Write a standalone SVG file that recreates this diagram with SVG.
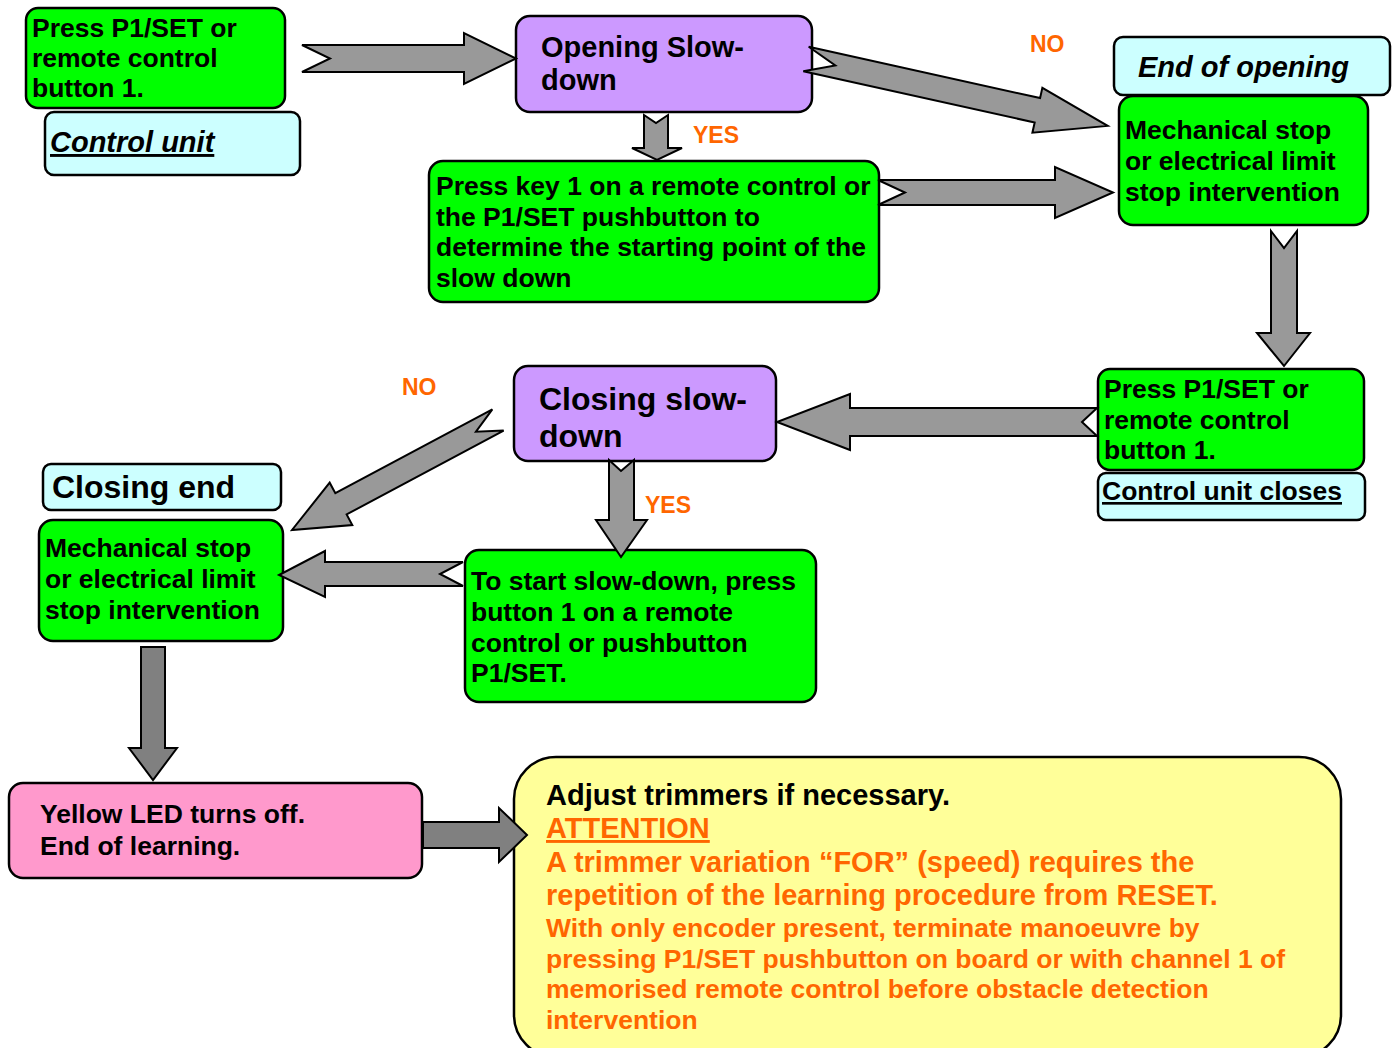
<svg xmlns="http://www.w3.org/2000/svg" width="1400" height="1048" viewBox="0 0 1400 1048">
<style>
text{font-family:"Liberation Sans",Arial,sans-serif;font-weight:bold;}
.g{fill:#00FF00;stroke:#000;stroke-width:2.5;}
.c{fill:#CCFFFF;stroke:#000;stroke-width:2.5;}
.p{fill:#CC99FF;stroke:#000;stroke-width:2.5;}
.k{fill:#FF99CC;stroke:#000;stroke-width:2.5;}
.y{fill:#FFFF99;stroke:#000;stroke-width:2.5;}
.t{font-size:26.5px;fill:#000;}
.big{font-size:29px;fill:#000;}
.lbl{font-size:23px;fill:#FF6600;}
.or{fill:#FF6600;}
.arr{fill:#999999;stroke:#000;stroke-width:2;stroke-linejoin:miter;}
.arr2{fill:#808080;stroke:#000;stroke-width:2;stroke-linejoin:miter;}
</style>
<rect width="1400" height="1048" fill="#fff"/>
<g id="n1">
<rect class="g" x="26" y="8" width="259" height="100" rx="12"/>
<text class="t" x="32" y="37">Press P1/SET or</text>
<text class="t" x="32" y="67">remote control</text>
<text class="t" x="32" y="97">button 1.</text>
</g>
<g id="control-unit">
<rect class="c" x="45" y="112" width="255" height="63" rx="9"/>
<text class="big" x="50" y="152" font-style="italic" text-decoration="underline">Control unit</text>
</g>
<g id="opening-slowdown">
<rect class="p" x="516" y="16" width="296" height="96" rx="14"/>
<text class="big" x="541" y="57">Opening Slow-</text>
<text class="big" x="541" y="90">down</text>
</g>
<g id="press-key">
<rect class="g" x="429" y="161" width="450" height="141" rx="14"/>
<text class="t" x="436" y="195">Press key 1 on a remote control or</text>
<text class="t" x="436" y="226">the P1/SET pushbutton to</text>
<text class="t" x="436" y="256">determine the starting point of the</text>
<text class="t" x="436" y="287">slow down</text>
</g>
<g id="end-of-opening">
<rect class="c" x="1114" y="37" width="276" height="58" rx="9"/>
<text class="big" x="1138" y="77" font-style="italic">End of opening</text>
</g>
<g id="mech-stop-open">
<rect class="g" x="1119" y="96" width="249" height="129" rx="14"/>
<text class="t" x="1125" y="139">Mechanical stop</text>
<text class="t" x="1125" y="170">or electrical limit</text>
<text class="t" x="1125" y="201">stop intervention</text>
</g>
<g id="n-press-right">
<rect class="g" x="1098" y="369" width="266" height="101" rx="12"/>
<text class="t" x="1104" y="398">Press P1/SET or</text>
<text class="t" x="1104" y="429">remote control</text>
<text class="t" x="1104" y="459">button 1.</text>
</g>
<g id="control-unit-closes">
<rect class="c" x="1098" y="473" width="267" height="47" rx="8"/>
<text class="t" x="1102" y="500" text-decoration="underline">Control unit closes</text>
</g>
<g id="closing-slowdown">
<rect class="p" x="514" y="366" width="262" height="95" rx="14"/>
<text x="539" y="410" font-size="32">Closing slow-</text>
<text x="539" y="447" font-size="32">down</text>
</g>
<g id="closing-end">
<rect class="c" x="43" y="464" width="238" height="46" rx="8"/>
<text x="52" y="498" font-size="32">Closing end</text>
</g>
<g id="mech-stop-close">
<rect class="g" x="39" y="520" width="244" height="121" rx="14"/>
<text class="t" x="45" y="557">Mechanical stop</text>
<text class="t" x="45" y="588">or electrical limit</text>
<text class="t" x="45" y="619">stop intervention</text>
</g>
<g id="to-start">
<rect class="g" x="465" y="550" width="351" height="152" rx="14"/>
<text class="t" x="471" y="590">To start slow-down, press</text>
<text class="t" x="471" y="621">button 1 on a remote</text>
<text class="t" x="471" y="652">control or pushbutton</text>
<text class="t" x="471" y="682">P1/SET.</text>
</g>
<g id="yellow-led">
<rect class="k" x="9" y="783" width="413" height="95" rx="14"/>
<text class="t" x="40" y="823">Yellow LED turns off.</text>
<text class="t" x="40" y="855">End of learning.</text>
</g>
<g id="adjust">
<rect class="y" x="514" y="757" width="827" height="300" rx="42"/>
<text class="big" x="546" y="805">Adjust trimmers if necessary.</text>
<text class="big or" x="546" y="838" text-decoration="underline">ATTENTION</text>
<text class="big or" x="546" y="872">A trimmer variation “FOR” (speed) requires the</text>
<text class="big or" x="546" y="905">repetition of the learning procedure from RESET.</text>
<text class="t or" x="546" y="937">With only encoder present, terminate manoeuvre by</text>
<text class="t or" x="546" y="968">pressing P1/SET pushbutton on board or with channel 1 of</text>
<text class="t or" x="546" y="998">memorised remote control before obstacle detection</text>
<text class="t or" x="546" y="1029">intervention</text>
</g>
<g id="connectors">
<polygon class="arr" points="302,45 464,45 464,33 516,58.5 464,84 464,72 302,72 330,58.5"/>
<polygon class="arr" transform="translate(806,59) rotate(12.5)" points="0,-12.5 237,-12.5 237,-23 309,0 237,23 237,12.5 0,12.5 30,0"/>
<polygon class="arr" points="644,115 656,123 668,115 668,148 682,148 657,160 632,148 644,148"/>
<polygon class="arr" points="878,180 1055,180 1055,167 1113,192.5 1055,218 1055,205 878,205 905,192.5"/>
<polygon class="arr" points="1271,231 1284,248 1297,231 1297,333 1310,333 1284,366 1257,333 1271,333"/>
<polygon class="arr" points="1097,408 850,408 850,394 777,422 850,450 850,436 1097,436 1082,422"/>
<polygon class="arr" transform="translate(498,420) rotate(151.9)" points="0,-12 178,-12 178,-24 233.5,0 178,24 178,12 0,12 25,0"/>
<polygon class="arr" points="609,460 621,471 634,460 634,520 647,520 621,557 596,520 609,520"/>
<polygon class="arr" points="463,562 325,562 325,551 279,575 325,597 325,586 463,586 440,574"/>
<polygon class="arr2" points="141,647 165,647 165,748 177,748 153,780 129,748 141,748"/>
<polygon class="arr2" points="423,822 499,822 499,808 527,835 499,862 499,848 423,848"/>
</g>
<g id="labels">
<text class="lbl" x="693" y="143">YES</text>
<text class="lbl" x="1030" y="52">NO</text>
<text class="lbl" x="402" y="395">NO</text>
<text class="lbl" x="645" y="513">YES</text>
</g>
</svg>
